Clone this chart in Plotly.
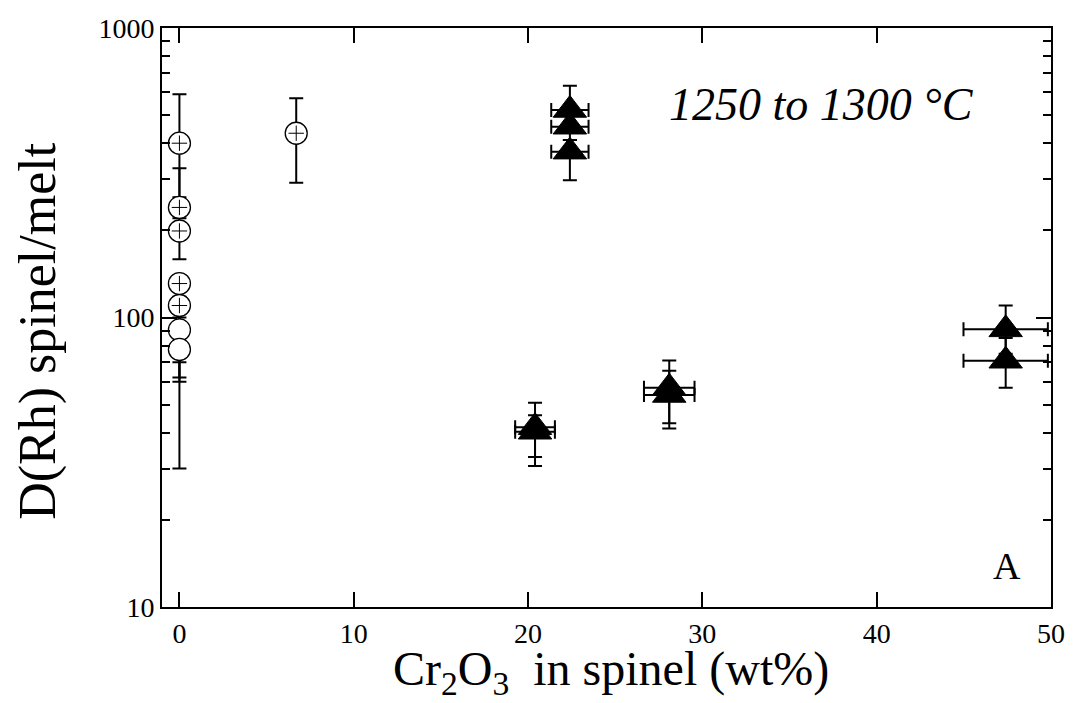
import plotly.graph_objects as go

# ---- data ----
# open circles with "+" (x = 0 and 6.7 wt% Cr2O3)
circ_plus_x = [0, 0, 0, 0, 0, 6.7]
circ_plus_y = [400, 240, 199, 131, 110, 433]
circ_plus_up = [191, 88, 29, 9, 8, 139]
circ_plus_dn = [140, 20, 40, 61, 48, 141]

# empty circles (x = 0)
circ_x = [0, 0]
circ_y = [90.6, 77.6]
circ_up = [9.4, 5.4]
circ_dn = [60.5, 17.6]

# filled triangles
tri_x = [22.4, 22.4, 22.4, 20.4, 20.4, 28.1, 28.1, 47.4, 47.4]
tri_y = [521, 456, 374, 41.8, 40.3, 57.2, 54.0, 91.0, 70.9]
tri_xerr = [1.07, 1.07, 1.07, 1.14, 1.14, 1.45, 1.45, 2.42, 2.42]
tri_up = [111, 44, 36, 9.0, 5.7, 13.8, 11.5, 19.0, 14.1]
tri_dn = [61, 46, 76, 8.8, 9.6, 14.1, 12.6, 16.0, 13.7]

x_ticks = [0, 10, 20, 30, 40, 50]
y_ticks = [10, 100, 1000]
y_minor = [m * d for d in (10, 100) for m in range(2, 10)]

FONT = "Liberation Serif, Times New Roman, DejaVu Serif, serif"

eb = dict(color="black", thickness=2, width=7)

fig = go.Figure()

fig.add_trace(go.Scatter(
    x=circ_plus_x, y=circ_plus_y, mode="markers",
    marker=dict(symbol="circle", size=22, color="white",
                line=dict(color="black", width=1.3)),
    error_y=dict(type="data", symmetric=False, array=circ_plus_up,
                 arrayminus=circ_plus_dn, **eb),
    showlegend=False))
fig.add_trace(go.Scatter(
    x=circ_plus_x, y=circ_plus_y, mode="markers",
    marker=dict(symbol="cross-thin", size=11, color="black",
                line=dict(color="black", width=1)),
    showlegend=False))
fig.add_trace(go.Scatter(
    x=circ_x, y=circ_y, mode="markers",
    marker=dict(symbol="circle", size=22, color="white",
                line=dict(color="black", width=1.3)),
    error_y=dict(type="data", symmetric=False, array=circ_up,
                 arrayminus=circ_dn, **eb),
    showlegend=False))
fig.add_trace(go.Scatter(
    x=tri_x, y=tri_y, mode="markers",
    marker=dict(symbol="triangle-up", size=29, color="black",
                line=dict(color="black", width=1)),
    error_y=dict(type="data", symmetric=False, array=tri_up,
                 arrayminus=tri_dn, **eb),
    error_x=dict(type="data", array=tri_xerr, **eb),
    showlegend=False))

axis_common = dict(
    showline=True, linecolor="black", linewidth=2, mirror="allticks",
    ticks="inside", ticklen=15, tickwidth=2, tickcolor="black",
    showgrid=False, zeroline=False,
    tickfont=dict(family=FONT, size=28, color="black"),
)

fig.update_layout(
    width=1077, height=703,
    margin=dict(l=162, r=19, t=28, b=96),
    paper_bgcolor="white", plot_bgcolor="white",
    font=dict(family=FONT, color="black"),
    xaxis=dict(range=[-1, 50], tickvals=x_ticks, **axis_common),
    yaxis=dict(type="log", range=[1, 3], tickvals=y_ticks,
               ticktext=[str(v) for v in y_ticks],
               minor=dict(ticks="inside", ticklen=8, tickwidth=2,
                          tickcolor="black", tickvals=y_minor, showgrid=False),
               **axis_common),
    annotations=[
        dict(text="Cr<sub>2</sub>O<sub>3</sub>  in spinel (wt%)",
             xref="paper", yref="paper", x=0.5056, y=-0.112,
             xanchor="center", yanchor="middle", showarrow=False,
             font=dict(family=FONT, size=48, color="black")),
        dict(text="D(Rh) spinel/melt", textangle=-90,
             xref="paper", yref="paper", x=-0.1395, y=0.477,
             xanchor="center", yanchor="middle", showarrow=False,
             font=dict(family=FONT, size=52, color="black")),
        dict(text="1250 to 1300 °C", xref="paper", yref="paper",
             x=0.742, y=0.868, xanchor="center", yanchor="middle",
             showarrow=False,
             font=dict(family=FONT, size=46, color="black", style="italic")),
        dict(text="A", xref="paper", yref="paper",
             x=0.95, y=0.07, xanchor="center", yanchor="middle",
             showarrow=False, font=dict(family=FONT, size=38, color="black")),
    ],
)

fig.write_html("out.html")
